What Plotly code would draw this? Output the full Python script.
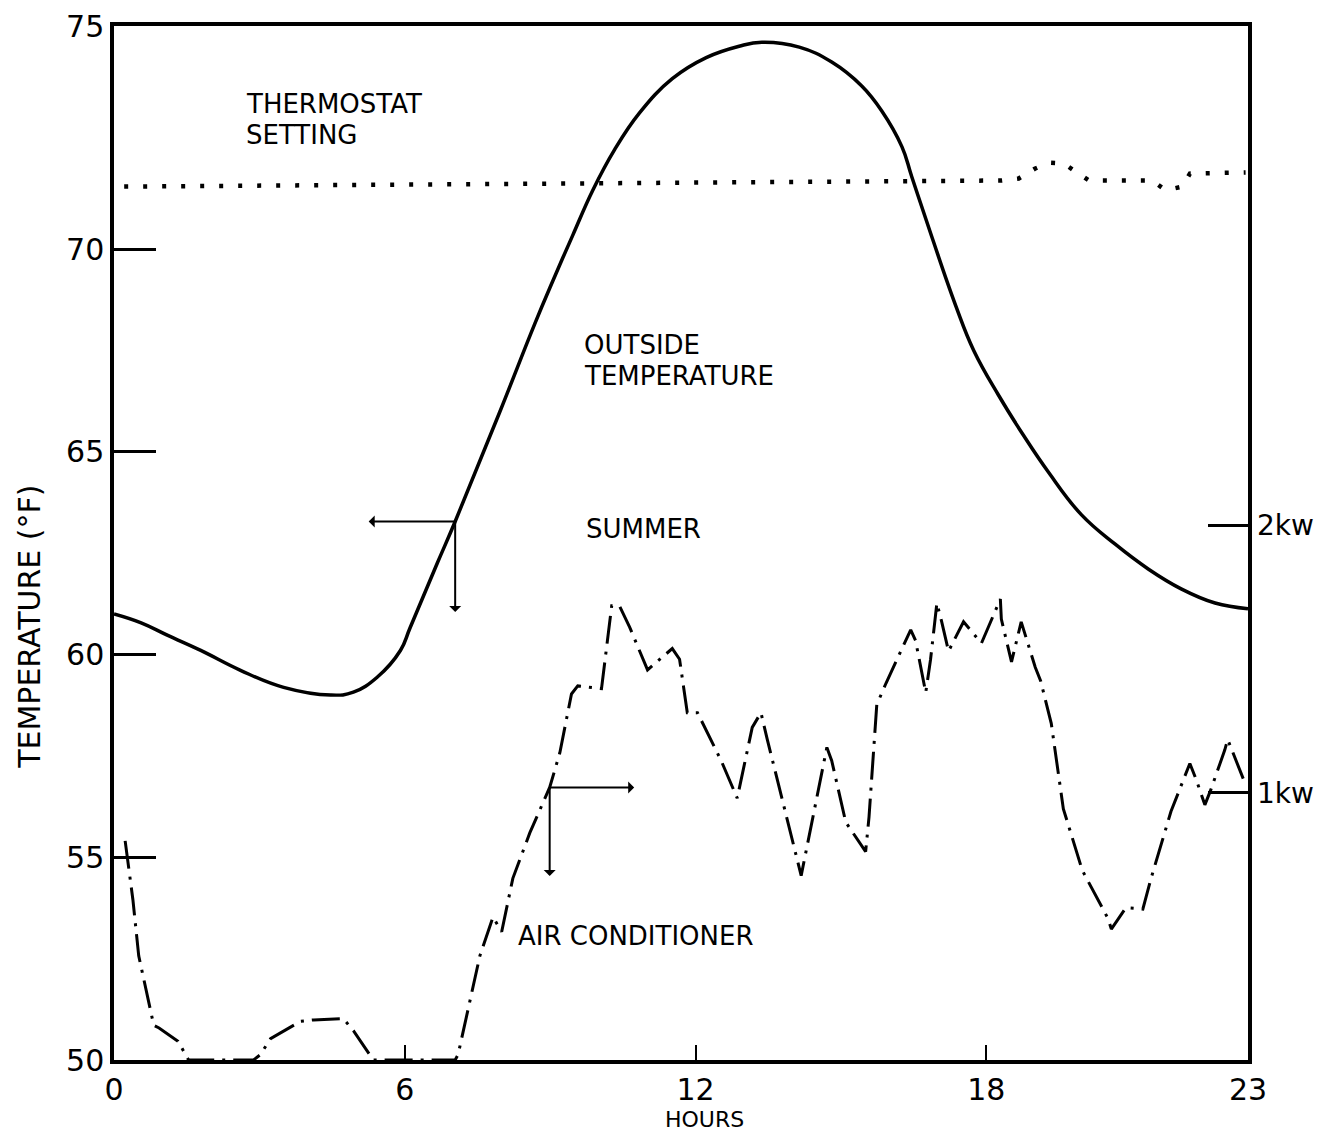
import plotly.graph_objects as go

# Outside temperature (deg F)
hours_outside = [0.0, 0.56, 1.11, 1.79, 2.61, 3.50, 4.47, 4.94, 5.43, 5.91, 6.11, 6.67, 7.04,
                 7.96, 8.68, 9.05, 9.47, 9.88, 10.33, 10.84, 11.52, 12.22, 12.90, 13.37, 14.14,
                 14.81, 15.43, 15.84, 16.26, 16.46, 16.87, 17.37, 17.74, 18.25, 18.77, 19.28,
                 19.96, 20.66, 21.34, 22.02, 22.72, 23.4]
temp_outside = [61.0, 60.78, 60.47, 60.10, 59.61, 59.19, 59.0, 59.07, 59.44, 60.10, 60.66, 62.25, 63.28,
                65.98, 68.15, 69.2, 70.35, 71.45, 72.45, 73.35, 74.2, 74.72, 75.0, 75.10, 74.98,
                74.61, 74.02, 73.41, 72.52, 71.79, 70.32, 68.60, 67.5, 66.4, 65.4, 64.5,
                63.45, 62.72, 62.11, 61.62, 61.27, 61.13]

# Thermostat setting (deg F)
hours_thermo = [0.21, 10.0, 18.31, 18.67, 19.0, 19.3, 19.6, 19.84, 20.12, 21.42, 21.7, 22.05, 22.2, 23.35]
temp_thermo = [71.54, 71.62, 71.69, 71.74, 71.98, 72.13, 72.11, 71.91, 71.69, 71.69, 71.45, 71.54, 71.86, 71.89]

# Air conditioner power (kW, right scale)
hours_ac = [0.23, 0.39, 0.51, 0.70, 0.82, 0.93, 1.32, 1.54, 2.88, 3.02,
            3.23, 3.85, 4.12, 4.73, 4.94, 5.35, 7.04, 7.10, 7.55, 7.82,
            8.0, 8.23, 8.58, 8.99, 9.20, 9.44, 9.57, 10.06, 10.27, 10.43,
            10.64, 11.01, 11.52, 11.67, 11.83, 12.04, 12.53, 12.86, 13.17, 13.35,
            13.48, 14.18, 14.71, 14.81, 15.10, 15.51, 15.58, 15.74, 15.93, 16.44,
            16.54, 16.75, 16.85, 16.98, 17.08, 17.22, 17.53, 17.90, 18.29, 18.31,
            18.52, 18.72, 19.01, 19.12, 19.34, 19.59, 19.98, 20.51, 20.58, 20.88,
            21.23, 21.40, 21.81, 22.20, 22.33, 22.51, 22.63, 22.92, 22.98, 23.33]
kw_ac = [0.82, 0.60, 0.39, 0.23, 0.13, 0.12, 0.07, 0.0, 0.0, 0.02,
         0.08, 0.145, 0.15, 0.155, 0.11, 0.0, 0.0, 0.02, 0.39, 0.535,
         0.48, 0.68, 0.85, 1.02, 1.15, 1.37, 1.40, 1.39, 1.70, 1.70,
         1.62, 1.46, 1.54, 1.50, 1.30, 1.30, 1.12, 0.98, 1.245, 1.30,
         1.20, 0.69, 1.17, 1.12, 0.89, 0.78, 0.91, 1.33, 1.41, 1.61,
         1.57, 1.375, 1.50, 1.71, 1.64, 1.53, 1.64, 1.56, 1.725, 1.65,
         1.49, 1.64, 1.47, 1.42, 1.26, 0.94, 0.71, 0.53, 0.49, 0.57,
         0.565, 0.68, 0.93, 1.11, 1.05, 0.955, 1.01, 1.16, 1.20, 1.04]

# Axis ticks (the end labels sit on the frame corners, like the drawing)
hour_ticks = [0, 6, 12, 18, 23.4]
hour_labels = ["0", "6", "12", "18", "23"]
temp_ticks = [50, 55, 60, 65, 70, 75.5]
temp_labels = ["50", "55", "60", "65", "70", "75"]
kw_ticks = [1, 2]
kw_labels = ["1kw", "2kw"]

FONT = "DejaVu Sans"

fig = go.Figure()

fig.add_trace(go.Scatter(
    x=hours_thermo, y=temp_thermo, mode='lines',
    line=dict(color='black', width=4.5, dash='4px,15px'),
    hoverinfo='skip'
))

fig.add_trace(go.Scatter(
    x=hours_outside, y=temp_outside, mode='lines',
    line=dict(color='black', width=3.5, shape='spline', smoothing=1.2),
    hoverinfo='skip'
))

fig.add_trace(go.Scatter(
    x=hours_ac, y=kw_ac, mode='lines', yaxis='y2',
    line=dict(color='black', width=3, dash='28px,8px,3px,8px'),
    hoverinfo='skip'
))

# page body adds an 8px offset, so the figure is 8px smaller than the window
fig.update_layout(
    width=1320, height=1131, autosize=False,
    margin=dict(l=106, r=80, t=18, b=79),
    plot_bgcolor='white', paper_bgcolor='white',
    showlegend=False,
    font=dict(family=FONT, color='black'),
    xaxis=dict(
        range=[0, 23.4], tickvals=hour_ticks, ticktext=hour_labels,
        ticks='inside', ticklen=15, tickwidth=2, tickcolor='black',
        showline=True, linewidth=3.5, linecolor='black', mirror=True,
        showgrid=False, zeroline=False, tickfont=dict(size=30), automargin=False,
        ticklabeloverflow='allow',
    ),
    yaxis=dict(
        range=[50, 75.5], tickvals=temp_ticks, ticktext=temp_labels,
        ticks='inside', ticklen=42, tickwidth=3, tickcolor='black',
        showline=True, linewidth=3.5, linecolor='black', mirror=True,
        showgrid=False, zeroline=False, tickfont=dict(size=30), automargin=False,
        ticklabeloverflow='allow',
    ),
    yaxis2=dict(
        overlaying='y', side='right', range=[0, 3.87],
        tickvals=kw_ticks, ticktext=kw_labels,
        ticks='inside', ticklen=40, tickwidth=2.5, tickcolor='black',
        showline=False, showgrid=False, zeroline=False, tickfont=dict(size=28),
        ticklabelstandoff=8, automargin=False, ticklabeloverflow='allow',
    ),
)

# axis titles placed where the drawing has them
fig.add_annotation(xref='paper', yref='paper', x=0.521, y=-0.058, text='HOURS',
                   showarrow=False, xanchor='center', yanchor='middle',
                   font=dict(family=FONT, size=22, color='black'))
fig.add_annotation(xref='paper', yref='paper', x=-0.074, y=0.419, text='TEMPERATURE (°F)',
                   textangle=-90, showarrow=False, xanchor='center', yanchor='middle',
                   font=dict(family=FONT, size=30, color='black'))

# axis pointer arrows
i_out = hours_outside.index(7.04)
i_ac = hours_ac.index(8.99)
arrow = dict(text='', showarrow=True, arrowside='start', arrowhead=2,
             arrowsize=1.7, arrowwidth=2, arrowcolor='black', axref='pixel', ayref='pixel')
fig.add_annotation(x=hours_outside[i_out], y=temp_outside[i_out], ax=-88, ay=0, **arrow)
fig.add_annotation(x=hours_outside[i_out], y=temp_outside[i_out], ax=0, ay=92, **arrow)
fig.add_annotation(x=hours_ac[i_ac], y=kw_ac[i_ac], yref='y2', ax=86, ay=0, **arrow)
fig.add_annotation(x=hours_ac[i_ac], y=kw_ac[i_ac], yref='y2', ax=0, ay=90, **arrow)

# curve labels
label_font = dict(family=FONT, size=26, color='black')
for txt, hx, ty in [('THERMOSTAT', 2.70, 73.58), ('SETTING', 2.70, 72.82),
                    ('OUTSIDE', 9.67, 67.63), ('TEMPERATURE', 9.67, 66.87),
                    ('SUMMER', 9.71, 63.1), ('AIR CONDITIONER', 8.31, 53.07)]:
    fig.add_annotation(x=hx, y=ty, text=txt, showarrow=False, borderpad=0,
                       xanchor='left', yanchor='middle', align='left', font=label_font)

fig.write_html("out.html")
